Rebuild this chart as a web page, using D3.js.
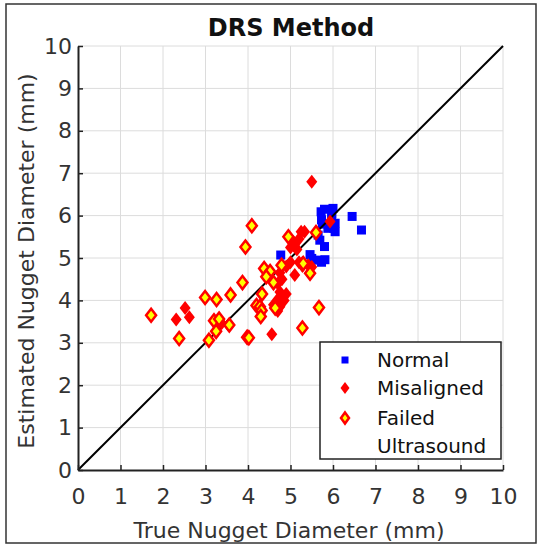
<!DOCTYPE html>
<html>
<head>
<meta charset="utf-8">
<script src="https://cdn.jsdelivr.net/npm/d3@7"></script>
<style>
  body { margin: 0; background: #fff; }
  text { font-family: "DejaVu Sans", Verdana, sans-serif; }
</style>
</head>
<body>
<svg width="541" height="546"></svg>
<script>
// true vs estimated nugget diameter (mm)
var normalPts = [
  [4.77, 5.07], [5.46, 5.08], [5.5, 4.99], [5.62, 4.95], [5.73, 4.9], [5.81, 4.96],
  [5.65, 5.54], [5.69, 5.42], [5.8, 5.27], [5.72, 6.09], [5.73, 5.9], [5.75, 5.8],
  [6.0, 6.17], [5.97, 5.95], [6.05, 5.82], [6.02, 5.7], [6.05, 5.62], [5.97, 6.05],
  [6.45, 5.98], [6.67, 5.66], [5.8, 6.15], [5.88, 5.7]
];
var misalignedPts = [
  [5.5, 6.8], [5.25, 5.62], [5.07, 5.38], [5.1, 5.28], [5.15, 5.2], [5.2, 5.45],
  [5.0, 5.25], [5.93, 5.86], [2.52, 3.82], [2.31, 3.55], [2.62, 3.6], [3.38, 3.46],
  [3.54, 3.42], [4.56, 3.2], [4.7, 4.4], [4.75, 4.2], [4.82, 4.1], [4.9, 4.15],
  [4.72, 4.05], [4.78, 3.95], [4.75, 3.85], [4.85, 4.0], [4.8, 4.5], [4.75, 4.65],
  [4.9, 4.8], [5.0, 4.9], [5.2, 4.9], [5.42, 4.83], [5.5, 4.79], [4.6, 3.9],
  [4.7, 3.75], [5.1, 4.6], [5.33, 5.62]
];
var failedPts = [
  [1.72, 3.65], [2.38, 3.1], [2.99, 4.07], [3.26, 4.02], [3.59, 4.13], [3.2, 3.52],
  [3.32, 3.56], [3.56, 3.42], [3.25, 3.27], [3.08, 3.06], [3.98, 3.13], [3.94, 5.26],
  [3.87, 4.42], [4.09, 5.76], [4.02, 3.12], [4.2, 3.88], [4.28, 3.85], [4.32, 3.76],
  [4.3, 3.62], [4.33, 4.15], [4.38, 4.75], [4.52, 4.68], [4.43, 4.56], [4.6, 4.42],
  [4.64, 3.82], [4.79, 4.83], [4.95, 5.5], [5.28, 4.85], [5.46, 4.64], [5.6, 5.6],
  [5.67, 3.83], [5.28, 3.35], [5.3, 4.87]
];
var tickVals = [0, 1, 2, 3, 4, 5, 6, 7, 8, 9, 10];
var legendNames = ["Normal", "Misaligned", "Failed", "Ultrasound"];

var svg = d3.select("svg");

// outer frame
svg.append("rect")
  .attr("x", 6).attr("y", 4).attr("width", 530).attr("height", 539)
  .attr("fill", "none").attr("stroke", "#333").attr("stroke-width", 1.5);

var x = d3.scaleLinear().domain([0, 10]).range([78, 503]);
var y = d3.scaleLinear().domain([0, 10]).range([470, 46]);

// grid
var grid = svg.append("g").attr("stroke", "#dcdcdc").attr("stroke-width", 1);
grid.selectAll(".gx").data(tickVals.slice(1)).enter().append("line")
  .attr("x1", d => x(d)).attr("x2", d => x(d))
  .attr("y1", y(0)).attr("y2", y(10));
grid.selectAll(".gy").data(tickVals.slice(1)).enter().append("line")
  .attr("x1", x(0)).attr("x2", x(10))
  .attr("y1", d => y(d)).attr("y2", d => y(d));

// markers
function diamond(w, h) {
  return "M0," + (-h) + "L" + w + ",0L0," + h + "L" + (-w) + ",0Z";
}

svg.append("g").selectAll("rect").data(normalPts).enter().append("rect")
  .attr("x", d => x(d[0]) - 4.5).attr("y", d => y(d[1]) - 4.5)
  .attr("width", 9).attr("height", 9)
  .attr("fill", "#0000ff");

// y = x reference line
svg.append("line")
  .attr("x1", x(0)).attr("y1", y(0)).attr("x2", x(10)).attr("y2", y(10))
  .attr("stroke", "#000").attr("stroke-width", 2);

svg.append("g").selectAll("path").data(misalignedPts).enter().append("path")
  .attr("transform", d => "translate(" + x(d[0]) + "," + y(d[1]) + ")")
  .attr("d", diamond(5.5, 7))
  .attr("fill", "#ff0000");

svg.append("g").selectAll("path").data(failedPts).enter().append("path")
  .attr("transform", d => "translate(" + x(d[0]) + "," + y(d[1]) + ")")
  .attr("d", diamond(5, 6.5))
  .attr("fill", "#ffff00").attr("stroke", "#ff0000").attr("stroke-width", 2.5);

// axes
var xAxis = svg.append("g").attr("transform", "translate(0," + y(0) + ")")
  .call(d3.axisBottom(x).tickValues(tickVals).tickSizeInner(-5).tickSizeOuter(0).tickPadding(18));
var yAxis = svg.append("g").attr("transform", "translate(" + x(0) + ",0)")
  .call(d3.axisLeft(y).tickValues(tickVals).tickSizeInner(-5).tickSizeOuter(0).tickPadding(6));
[xAxis, yAxis].forEach(function(a) {
  a.select(".domain").attr("stroke", "#222").attr("stroke-width", 2);
  a.selectAll(".tick line").attr("stroke", "#222").attr("stroke-width", 1.5);
  a.selectAll(".tick text").attr("fill", "#333").style("font-size", "22px")
    .style("font-family", "DejaVu Sans, sans-serif");
});

// title and axis labels
svg.append("text").attr("x", 291).attr("y", 36).attr("text-anchor", "middle")
  .style("font-size", "24px").style("font-weight", "bold").attr("fill", "#111")
  .text("DRS Method");
svg.append("text").attr("x", 289).attr("y", 538).attr("text-anchor", "middle")
  .style("font-size", "22px").attr("fill", "#333")
  .text("True Nugget Diameter (mm)");
svg.append("text").attr("transform", "translate(34,261) rotate(-90)")
  .attr("text-anchor", "middle").style("font-size", "22px").attr("fill", "#333")
  .text("Estimated Nugget Diameter (mm)");

// legend
var lg = svg.append("g");
lg.append("rect").attr("x", 320).attr("y", 342).attr("width", 181).attr("height", 117)
  .attr("fill", "#fff").attr("stroke", "#222").attr("stroke-width", 1.5);
var legY = [360, 388, 418, 446];
lg.append("rect").attr("x", 345 - 3.5).attr("y", legY[0] - 3.5).attr("width", 7).attr("height", 7)
  .attr("fill", "#0000ff");
lg.append("path").attr("transform", "translate(345," + legY[1] + ")")
  .attr("d", diamond(4.5, 6)).attr("fill", "#ff0000");
lg.append("path").attr("transform", "translate(345," + legY[2] + ")")
  .attr("d", diamond(4, 5.5)).attr("fill", "#ffff00")
  .attr("stroke", "#ff0000").attr("stroke-width", 2.5);
lg.selectAll("text.lab").data(legendNames).enter().append("text")
  .attr("x", 377).attr("y", (d, i) => legY[i]).attr("dy", "0.35em")
  .style("font-size", "20px").attr("fill", "#111")
  .text(d => d);
</script>
</body>
</html>
